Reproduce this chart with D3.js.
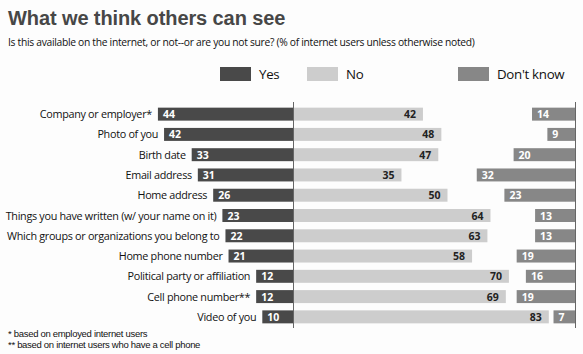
<!DOCTYPE html>
<html>
<head>
<meta charset="utf-8">
<script src="https://cdn.jsdelivr.net/npm/d3@7"></script>
<style>
  html, body { margin: 0; padding: 0; background: #fdfdfd; }
  svg { display: block; }
</style>
</head>
<body>
<svg id="chart" width="583" height="354"></svg>
<script>
const categories = [
  "Company or employer*",
  "Photo of you",
  "Birth date",
  "Email address",
  "Home address",
  "Things you have written  (w/ your name on it)",
  "Which groups or organizations you belong to",
  "Home phone number",
  "Political party or affiliation",
  "Cell phone number**",
  "Video of you"
];
const yesValues      = [44, 42, 33, 31, 26, 23, 22, 21, 12, 12, 10];
const noValues       = [42, 48, 47, 35, 50, 64, 63, 58, 70, 69, 83];
const dontKnowValues = [14,  9, 20, 32, 23, 13, 13, 19, 16, 19,  7];
const seriesNames = ["Yes", "No", "Don't know"];
const footnotes = [
  "* based on employed internet users",
  "** based on internet users who have a cell phone"
];
const titleText = "What we think others can see";
const subtitleText = "Is this available on the internet, or not--or are you not sure? (% of internet users unless otherwise noted)";

const colors = { yes: "#494949", no: "#cdcdcd", dk: "#878787" };
const fontFam = "'Open Sans', 'Noto Sans', sans-serif";

const svg = d3.select("#chart");
svg.append("rect").attr("width", 583).attr("height", 354).attr("fill", "#fdfdfd");

// title
svg.append("text").attr("x", 8).attr("y", 25)
  .attr("font-family", "'Liberation Sans', Arial, sans-serif")
  .attr("font-weight", "bold").attr("font-size", 20).attr("fill", "#474747")
  .attr("letter-spacing", -0.1)
  .text(titleText);
svg.append("text").attr("x", 8).attr("y", 46)
  .attr("font-family", fontFam).attr("font-size", 10.3).attr("fill", "#111")
  .attr("letter-spacing", -0.3)
  .text(subtitleText);

// scales
const center = 293;
const rightEdge = 575;
const pxPerUnit = 3.07;
const w = d3.scaleLinear().domain([0, 100]).range([0, 100 * pxPerUnit]);
const y = d3.scaleBand().domain(categories).range([104, 327]).paddingInner(0.36).paddingOuter(0.18);

// legend
const legendItems = [
  { name: seriesNames[0], color: colors.yes, x: 220 },
  { name: seriesNames[1], color: colors.no, x: 307 },
  { name: seriesNames[2], color: colors.dk, x: 458 }
];
const lg = svg.append("g");
lg.selectAll("rect").data(legendItems).join("rect")
  .attr("x", d => d.x).attr("y", 67).attr("width", 31).attr("height", 14)
  .attr("fill", d => d.color);
lg.selectAll("text").data(legendItems).join("text")
  .attr("x", d => d.x + 39).attr("y", 79)
  .attr("font-family", fontFam).attr("font-size", 13.3).attr("fill", "#111")
  .attr("letter-spacing", -0.3)
  .text(d => d.name);

const rows = categories.map((c, i) => ({ c, yes: yesValues[i], no: noValues[i], dk: dontKnowValues[i] }));
const g = svg.append("g");

// Yes bars
g.selectAll("rect.yes").data(rows).join("rect").attr("class", "yes")
  .attr("x", d => center - w(d.yes)).attr("y", d => y(d.c))
  .attr("width", d => w(d.yes)).attr("height", y.bandwidth())
  .attr("fill", colors.yes);
// No bars
g.selectAll("rect.no").data(rows).join("rect").attr("class", "no")
  .attr("x", center + 1).attr("y", d => y(d.c))
  .attr("width", d => w(d.no)).attr("height", y.bandwidth())
  .attr("fill", colors.no);
// Don't know bars
g.selectAll("rect.dk").data(rows).join("rect").attr("class", "dk")
  .attr("x", d => rightEdge - w(d.dk)).attr("y", d => y(d.c))
  .attr("width", d => w(d.dk)).attr("height", y.bandwidth())
  .attr("fill", colors.dk);

// axis lines
g.append("line").attr("x1", center + 0.5).attr("x2", center + 0.5)
  .attr("y1", 102).attr("y2", 328).attr("stroke", "#666").attr("stroke-width", 1);
g.append("line").attr("x1", rightEdge + 0.5).attr("x2", rightEdge + 0.5)
  .attr("y1", 102).attr("y2", 328).attr("stroke", "#666").attr("stroke-width", 1);

// category labels
g.selectAll("text.cat").data(rows).join("text").attr("class", "cat")
  .attr("x", d => center - w(d.yes) - 6)
  .attr("y", d => y(d.c) + y.bandwidth() / 2 + 4)
  .attr("text-anchor", "end")
  .attr("font-family", fontFam).attr("font-size", 10.8).attr("fill", "#111")
  .attr("letter-spacing", -0.3)
  .text(d => d.c);

// value labels
const valFont = { family: fontFam, size: 10.5 };
g.selectAll("text.vy").data(rows).join("text").attr("class", "vy")
  .attr("x", d => center - w(d.yes) + 5)
  .attr("y", d => y(d.c) + y.bandwidth() / 2 + 4)
  .attr("font-family", valFont.family).attr("font-size", valFont.size)
  .attr("font-weight", "bold").attr("fill", "#fff")
  .text(d => d.yes);
g.selectAll("text.vn").data(rows).join("text").attr("class", "vn")
  .attr("x", d => center + 1 + w(d.no) - 7)
  .attr("y", d => y(d.c) + y.bandwidth() / 2 + 4)
  .attr("text-anchor", "end")
  .attr("font-family", valFont.family).attr("font-size", valFont.size)
  .attr("font-weight", "bold").attr("fill", "#222")
  .text(d => d.no);
g.selectAll("text.vd").data(rows).join("text").attr("class", "vd")
  .attr("x", d => rightEdge - w(d.dk) + 5)
  .attr("y", d => y(d.c) + y.bandwidth() / 2 + 4)
  .attr("font-family", valFont.family).attr("font-size", valFont.size)
  .attr("font-weight", "bold").attr("fill", "#fff")
  .text(d => d.dk);

// footnotes
svg.selectAll("text.fn").data(footnotes).join("text").attr("class", "fn")
  .attr("x", 8).attr("y", (d, i) => 337 + i * 11)
  .attr("font-family", "'Liberation Sans', Arial, sans-serif").attr("font-size", 9.5).attr("fill", "#111")
  .attr("letter-spacing", -0.3)
  .text(d => d);
</script>
</body>
</html>
